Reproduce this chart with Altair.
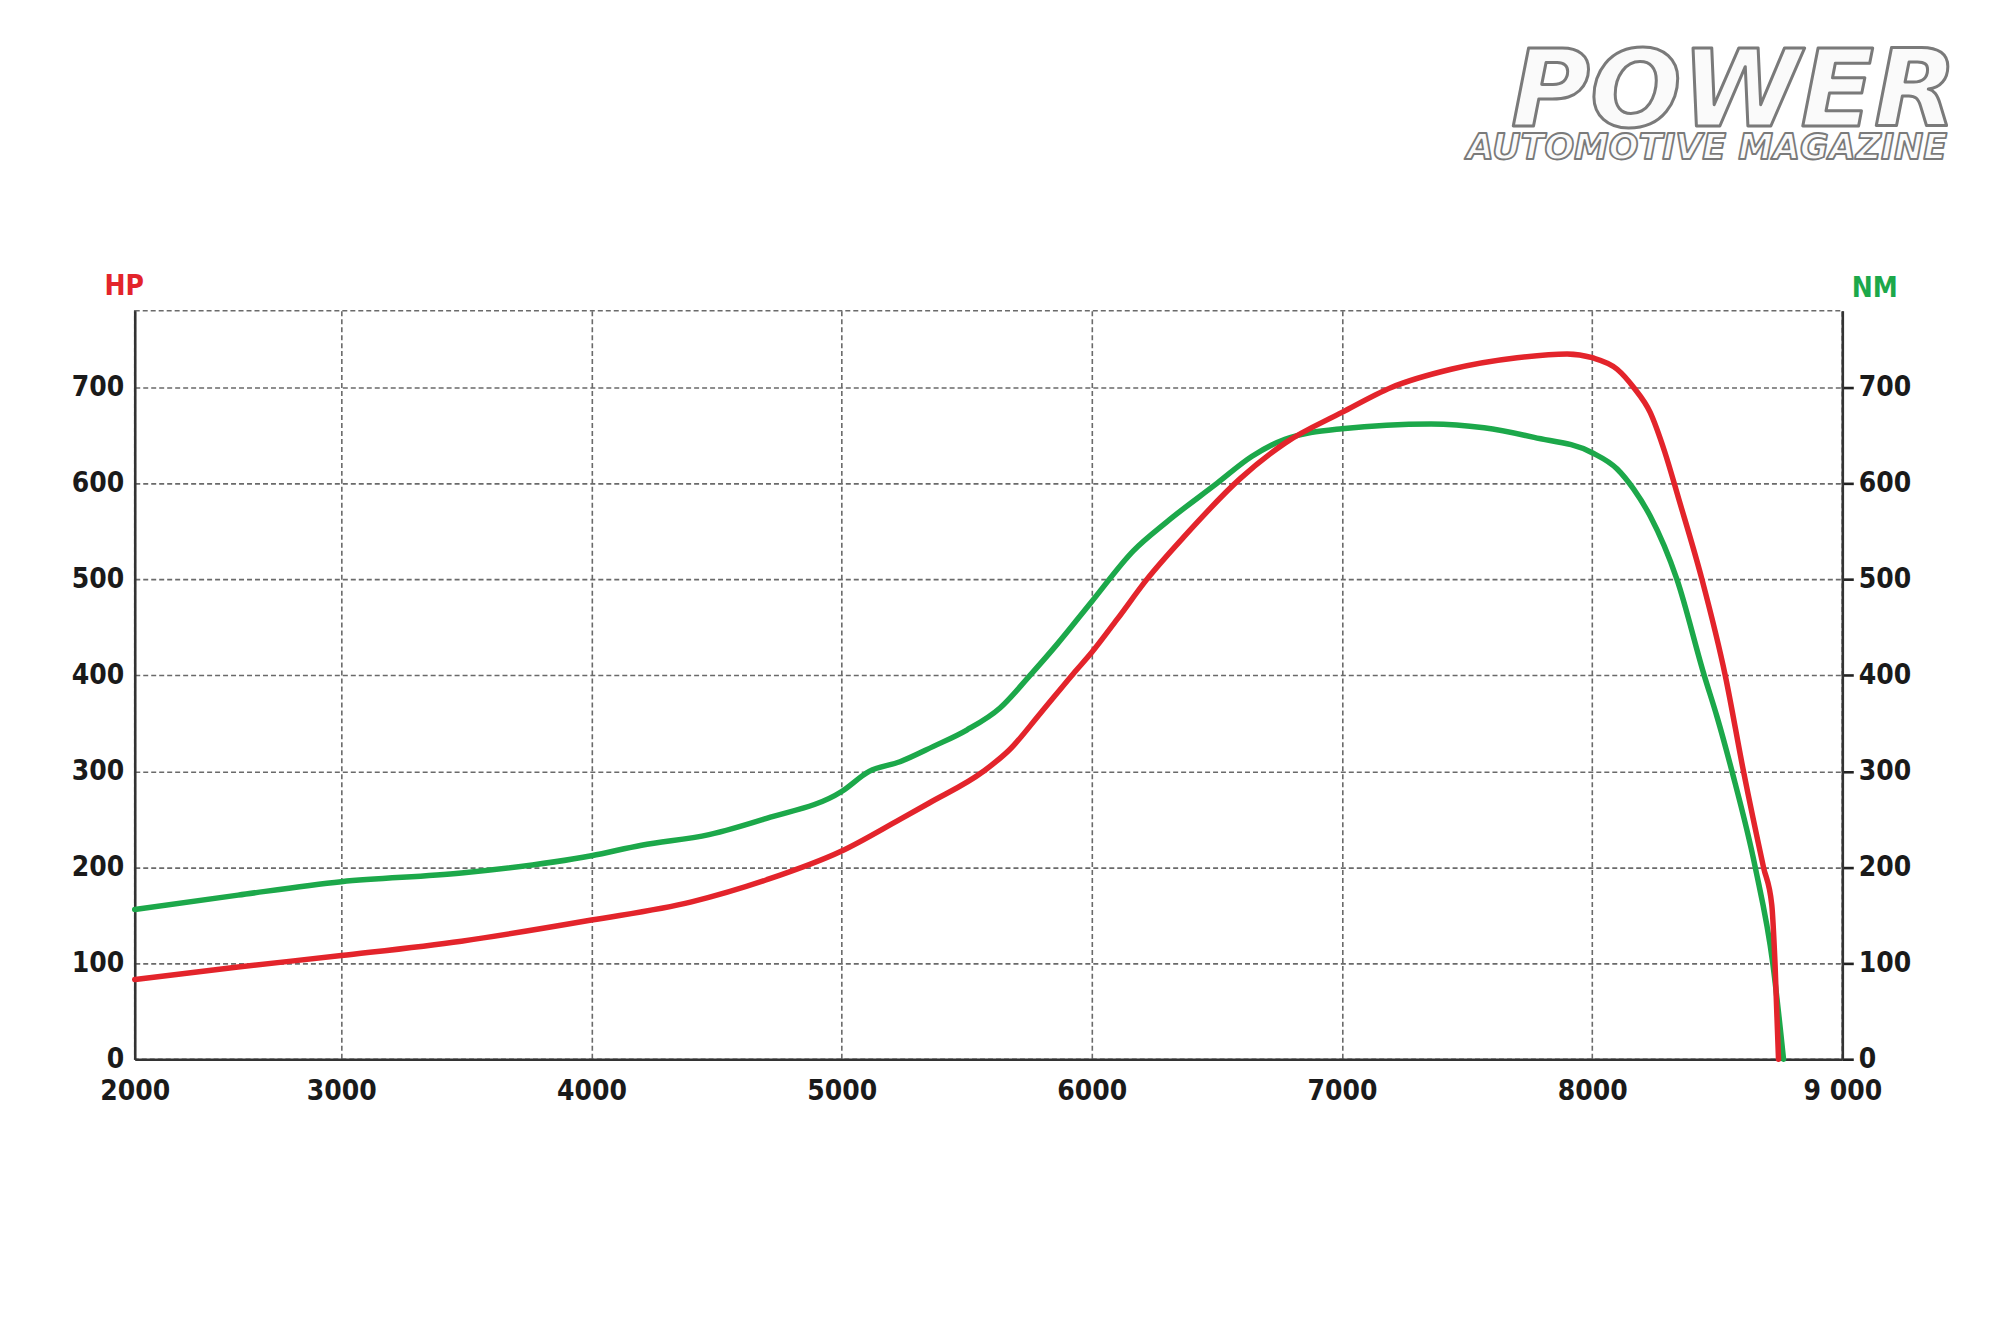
import altair as alt
import pandas as pd

# ---- data ----
hp_rpm = [2000, 2500, 3000, 3480, 4000, 4400, 4700, 5000, 5233, 5350, 5567, 5673, 5793,
          5927, 6000, 6100, 6220, 6367, 6593, 6772, 7000, 7197, 7436, 7700, 7900, 8000,
          8100, 8166, 8232, 8290, 8346, 8439, 8532, 8605, 8685, 8718, 8731, 8745]
hp_val = [83, 96, 108, 123, 145, 164, 187, 217, 250, 267, 300, 323, 360,
          402, 424, 458, 500, 544, 605, 642, 674, 700, 719, 731, 735, 731,
          719, 700, 674, 633, 584, 500, 400, 300, 200, 161, 100, 0]

nm_rpm = [2000, 2500, 3000, 3480, 4000, 4200, 4470, 4700, 5000, 5110, 5233, 5367, 5500,
          5633, 5753, 5860, 6000, 6167, 6300, 6500, 6639, 6772, 7000, 7356, 7568, 7768,
          8000, 8100, 8166, 8232, 8339, 8448, 8499, 8559, 8652, 8722, 8765]
nm_val = [156, 171, 185, 194, 212, 223, 234, 251, 279, 300, 310, 326, 343,
          366, 400, 432, 477, 530, 560, 600, 628, 646, 657, 662, 658, 648,
          632, 615, 594, 566, 500, 400, 357, 300, 200, 100, 0]

x_ticks = [2000, 3000, 4000, 5000, 6000, 7000, 8000, 9000]
y_ticks = [0, 100, 200, 300, 400, 500, 600, 700]
logo_main = ["POWER"]
logo_sub = ["AUTOMOTIVE MAGAZINE"]

RED = "#e3242b"
GREEN = "#1ca84a"
FONT = "DejaVu Sans Condensed, Roboto, sans-serif"
LBL = 28

hp_df = pd.DataFrame({"rpm": hp_rpm, "hp": hp_val})
nm_df = pd.DataFrame({"rpm": nm_rpm, "nm": nm_val})

W, H = 1711, 750
xscale = alt.Scale(domain=[2000, 3000, 9000], range=[0, 207, W])
yscale = alt.Scale(domain=[0, 780], nice=False, zero=True)

xaxis = alt.Axis(values=x_ticks, title=None, grid=True, gridColor="#6a6a6a",
                 gridDash=[5, 3], gridWidth=1.6, domainColor="#333333", domainWidth=2.6,
                 ticks=False, labelPadding=18, labelFontSize=LBL, labelFont=FONT,
                 labelFontWeight="bold", labelColor="#1a1a1a", labelBaseline="top",
                 labelFlush=False,
                 labelExpr="datum.value == 9000 ? '9 000' : datum.label", format="d")

green = alt.Chart(nm_df).mark_line(color=GREEN, strokeWidth=5.5, interpolate="monotone",
                                   strokeCap="round").encode(
    x=alt.X("rpm:Q", scale=xscale, axis=xaxis),
    y=alt.Y("nm:Q", scale=yscale,
            axis=alt.Axis(orient="right", values=y_ticks, grid=False, domainColor="#333333",
                          domainWidth=2.6, ticks=True, tickSize=11, tickWidth=2.6,
                          tickColor="#222222", labelPadding=5, labelFontSize=LBL,
                          labelFont=FONT, labelFontWeight="bold", labelColor="#1a1a1a",
                          title="NM", titleAngle=0, titleColor=GREEN, titleFont=FONT,
                          titleFontWeight="bold", titleFontSize=28, titleX=32, titleY=-14,
                          titleAlign="center", titleBaseline="alphabetic")),
)

red = alt.Chart(hp_df).mark_line(color=RED, strokeWidth=5.5, interpolate="monotone",
                                 strokeCap="round").encode(
    x=alt.X("rpm:Q", scale=xscale, axis=xaxis),
    y=alt.Y("hp:Q", scale=yscale,
            axis=alt.Axis(orient="left", values=y_ticks, grid=True, gridColor="#6a6a6a",
                          gridDash=[5, 3], gridWidth=1.6, domainColor="#333333",
                          domainWidth=2.6, ticks=False, labelPadding=11, labelFontSize=LBL,
                          labelFont=FONT, labelFontWeight="bold", labelColor="#1a1a1a",
                          title="HP", titleAngle=0, titleColor=RED, titleFont=FONT,
                          titleFontWeight="bold", titleFontSize=28, titleX=-11, titleY=-16,
                          titleAlign="center", titleBaseline="alphabetic")),
)

main_df = pd.DataFrame({"t": logo_main})
sub_df = pd.DataFrame({"t": logo_sub})

logo1 = alt.Chart(main_df).mark_text(
    font="DejaVu Sans", fontWeight="bold", fontStyle="italic", fontSize=108,
    align="right", baseline="alphabetic", fill="#fafafa",
    stroke="#7a7a7a", strokeWidth=3, strokeJoin="round"
).encode(x=alt.value(1826), y=alt.value(-185), text="t:N")

logo2 = alt.Chart(sub_df).mark_text(
    font="DejaVu Sans", fontWeight="bold", fontStyle="italic", fontSize=35,
    align="right", baseline="alphabetic", fill="#fafafa",
    stroke="#7a7a7a", strokeWidth=1.8, strokeJoin="round"
).encode(x=alt.value(1816), y=alt.value(-152), text="t:N")

chart = alt.layer(green, red, logo1, logo2).resolve_scale(y="independent").properties(
    width=W, height=H,
    autosize=alt.AutoSizeParams(type="none"),
    padding={"left": 127, "top": 302, "right": 150, "bottom": 250},
    background="#ffffff",
).configure_view(stroke="#6a6a6a", strokeDash=[5, 3], strokeWidth=1.6)

chart.save("out.html", embed_options={"renderer": "svg", "actions": False})
